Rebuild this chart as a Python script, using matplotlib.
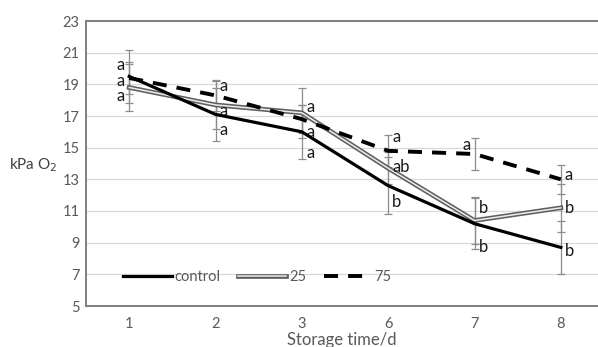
import matplotlib
matplotlib.use("Agg")
import matplotlib.pyplot as plt
import matplotlib.patheffects as pe
import numpy as np

days = ["1", "2", "3", "6", "7", "8"]
control = [19.5, 17.1, 16.0, 12.6, 10.2, 8.7]
control_err = [1.7, 1.7, 1.7, 1.8, 1.6, 1.7]
s25 = [18.8, 17.7, 17.2, 13.7, 10.4, 11.2]
s25_err = [1.5, 1.5, 1.6, 1.0, 1.5, 1.5]
s75 = [19.4, 18.3, 16.8, 14.8, 14.6, 13.0]
s75_err = [1.0, 1.0, 0.9, 1.0, 1.0, 0.9]

# significance letters: (day index, y, text, side)
letters = [
    (0, 20.2, "a", "L"), (0, 19.2, "a", "L"), (0, 18.25, "a", "L"),
    (1, 18.9, "a", "R"), (1, 17.3, "a", "R"), (1, 16.1, "a", "R"),
    (2, 17.6, "a", "R"), (2, 16.0, "a", "R"), (2, 14.65, "a", "R"),
    (3, 15.65, "a", "R"), (3, 13.75, "ab", "R"), (3, 11.55, "b", "R"),
    (4, 15.15, "a", "L"), (4, 11.2, "b", "R"), (4, 8.75, "b", "R"),
    (5, 13.3, "a", "R"), (5, 11.2, "b", "R"), (5, 8.45, "b", "R"),
]

plt.rcParams['font.family'] = ['Lato', 'DejaVu Sans']

fig = plt.figure(figsize=(5.98, 3.47), dpi=100)
ax = fig.add_axes([86.5/598, 41/347, 1 - 86.5/598 + 0.01, (306-21)/347])

x = np.arange(1, len(days) + 1)

ax.set_ylim(5, 23)
ax.set_xlim(0.505, 6.5)
ax.set_yticks(np.arange(5, 24, 2))
ax.set_xticks(x)
ax.set_xticklabels(days)
ax.yaxis.grid(True, color='#d9d9d9', lw=0.9)
ax.set_axisbelow(True)

for sp in ['left', 'bottom', 'top']:
    ax.spines[sp].set_color('#7f7f7f')
    ax.spines[sp].set_linewidth(1.4)
ax.spines['right'].set_visible(False)
ax.tick_params(length=0, labelsize=10.5, labelcolor='#595959', pad=5)
ax.tick_params(axis='x', pad=8)

ecol = '#8c8c8c'
for vals, errs in [(control, control_err), (s25, s25_err), (s75, s75_err)]:
    ax.errorbar(x, vals, yerr=errs, fmt='none', ecolor=ecol, elinewidth=0.9,
                capsize=3.2, capthick=0.9, zorder=2)

ax.plot(x, control, color='black', lw=2.3, solid_joinstyle='round',
        label='control', zorder=4)
ax.plot(x, s25, color='#ececec', lw=1.1, label='25', zorder=3,
        path_effects=[pe.Stroke(linewidth=3.4, foreground='#606060'), pe.Normal()])
ax.plot(x, s75, color='black', lw=2.8, dashes=(3.6, 2.6), dash_capstyle='butt',
        label='75', zorder=3)

for i, y, t, side in letters:
    if side == "R":
        ax.annotate(t, (x[i], y), xytext=(3, 0), textcoords='offset points',
                    ha='left', va='center', fontsize=12, color='#1a1a1a')
    else:
        ax.annotate(t, (x[i], y), xytext=(-3, 0), textcoords='offset points',
                    ha='right', va='center', fontsize=12, color='#1a1a1a')

leg = ax.legend(loc='lower left', bbox_to_anchor=(0.06, 0.055), ncol=3, frameon=False,
                fontsize=10.5, handlelength=3.3, handletextpad=0.2,
                columnspacing=1.2, borderaxespad=0)
for t in leg.get_texts():
    t.set_color('#595959')

fig.text(33/598, 1 - 165/347, "kPa O$_2$", ha='center', va='center',
         fontsize=11, color='#404040')
fig.text(342/598, 1 - 340/347, "Storage time/d", ha='center', va='center',
         fontsize=12, color='#595959')

fig.savefig("out.png", dpi=100)
